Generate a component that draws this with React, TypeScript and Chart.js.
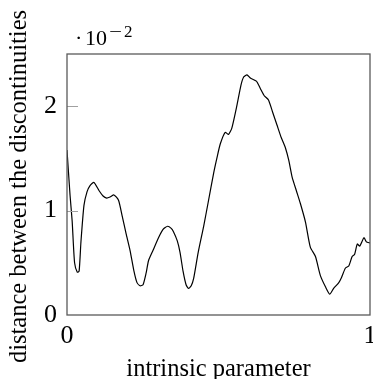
import React, { useEffect, useRef } from "react";
import { Chart, registerables } from "chart.js";

Chart.register(...registerables);

// intrinsic parameter (x) and distance between discontinuities (y, in units of 1e-2)
const params = [
  0.0, 0.01, 0.017, 0.025, 0.034, 0.04, 0.046, 0.056, 0.066, 0.076, 0.089, 0.106, 0.119,
  0.131, 0.142, 0.155, 0.17, 0.182, 0.195, 0.208, 0.221, 0.231, 0.241, 0.251, 0.261,
  0.269, 0.284, 0.302, 0.317, 0.332, 0.344, 0.351, 0.364, 0.373, 0.383, 0.393, 0.401,
  0.41, 0.418, 0.433, 0.451, 0.466, 0.484, 0.496, 0.506, 0.522, 0.533, 0.544, 0.561,
  0.574, 0.583, 0.594, 0.605, 0.625, 0.638, 0.651, 0.665, 0.679, 0.693, 0.707, 0.721,
  0.732, 0.743, 0.757, 0.77, 0.787, 0.803, 0.82, 0.836, 0.853, 0.867, 0.88, 0.897,
  0.906, 0.919, 0.93, 0.941, 0.949, 0.958, 0.966, 0.98, 0.988, 1.0,
];
const distances = [
  1.58, 1.15, 0.9, 0.5, 0.41, 0.42, 0.7, 1.05, 1.18, 1.24, 1.27, 1.19, 1.14,
  1.12, 1.13, 1.15, 1.1, 0.95, 0.78, 0.62, 0.42, 0.31, 0.28, 0.29, 0.4,
  0.52, 0.62, 0.74, 0.82, 0.85, 0.83, 0.8, 0.71, 0.6, 0.42, 0.29, 0.255,
  0.28, 0.35, 0.6, 0.85, 1.08, 1.36, 1.52, 1.64, 1.75, 1.73, 1.79, 2.01,
  2.2, 2.28, 2.3, 2.27, 2.24, 2.17, 2.1, 2.06, 1.94, 1.82, 1.7, 1.6,
  1.48, 1.32, 1.19, 1.07, 0.89, 0.65, 0.56, 0.38, 0.27, 0.2, 0.255, 0.31,
  0.36, 0.45, 0.47, 0.56, 0.58, 0.68, 0.66, 0.74, 0.7, 0.69,
];
const xTicks = [0, 1];
const yTicks = [0, 1, 2];
const xTitle = "intrinsic parameter";
const yTitle = "distance between the discontinuities";
const multiplierBase = "10";
const multiplierExp = "\u22122";

const SERIF = "'Liberation Serif', 'Times New Roman', serif";

const decorPlugin = {
  id: "decor",
  afterDraw(chart: any) {
    const { ctx, chartArea } = chart;
    const { left, right, top, bottom } = chartArea;
    const yScale = chart.scales.y;
    ctx.save();
    // inner tick marks
    ctx.strokeStyle = "#a0a0a0";
    ctx.lineWidth = 1;
    yTicks.forEach((v) => {
      if (v === 0) return;
      const py = Math.round(yScale.getPixelForValue(v)) + 0.5;
      ctx.beginPath();
      ctx.moveTo(left, py);
      ctx.lineTo(left + 11, py);
      ctx.stroke();
    });
    // frame
    ctx.strokeStyle = "#5a5a5a";
    ctx.lineWidth = 1.3;
    ctx.strokeRect(left, top, right - left, bottom - top);
    // titles
    ctx.fillStyle = "#000";
    ctx.font = `24.5px ${SERIF}`;
    ctx.textAlign = "center";
    ctx.textBaseline = "alphabetic";
    ctx.fillText(xTitle, (left + right) / 2, 375.5);
    ctx.save();
    ctx.translate(26, (top + bottom) / 2 + 2);
    ctx.rotate(-Math.PI / 2);
    ctx.fillText(yTitle, 0, 0);
    ctx.restore();
    // multiplier  ·10^-2
    ctx.textAlign = "left";
    ctx.font = `22px ${SERIF}`;
    ctx.fillText("\u00b7", 75, 45);
    ctx.fillText(multiplierBase, 85, 45);
    const w = ctx.measureText(multiplierBase).width;
    ctx.font = `17px ${SERIF}`;
    ctx.save();
    ctx.translate(85 + w + 2, 37);
    ctx.scale(1.35, 1);
    ctx.fillText("\u2212", 0, 0);
    ctx.restore();
    ctx.fillText("2", 85 + w + 17, 37);
    ctx.restore();
  },
};

export default function App() {
  const ref = useRef<HTMLCanvasElement>(null);
  useEffect(() => {
    document.body.style.margin = "0";
    const chart = new Chart(ref.current as HTMLCanvasElement, {
      type: "line",
      data: {
        datasets: [
          {
            data: params.map((x, i) => ({ x, y: distances[i] })),
            borderColor: "#000",
            borderWidth: 1.2,
            pointRadius: 0,
            tension: 0.2,
            fill: false,
          },
        ],
      },
      options: {
        responsive: false,
        animation: false,
        layout: { padding: { top: 54, right: 3, left: 0, bottom: 0 } },
        plugins: { legend: { display: false }, tooltip: { enabled: false } },
        scales: {
          x: {
            type: "linear",
            min: 0,
            max: 1,
            afterBuildTicks: (s: any) => {
              s.ticks = xTicks.map((v) => ({ value: v }));
            },
            afterFit: (s: any) => {
              s.height = 64;
              s.paddingLeft = 0;
              s.paddingRight = 0;
            },
            ticks: {
              autoSkip: false,
              maxRotation: 0,
              padding: 6,
              color: "#000",
              font: { family: SERIF, size: 26 },
              callback: (v: any) => String(v),
            },
            grid: { display: false, drawTicks: false },
            border: { display: false },
          },
          y: {
            type: "linear",
            min: 0,
            max: 2.5,
            afterBuildTicks: (s: any) => {
              s.ticks = yTicks.map((v) => ({ value: v }));
            },
            afterFit: (s: any) => {
              s.width = 67;
              s.paddingTop = 0;
              s.paddingBottom = 0;
            },
            ticks: {
              autoSkip: false,
              padding: 10,
              color: "#000",
              font: { family: SERIF, size: 26 },
              callback: (v: any) => String(v),
            },
            grid: { display: false, drawTicks: false },
            border: { display: false },
          },
        },
      },
      plugins: [decorPlugin],
    } as any);
    return () => chart.destroy();
  }, []);
  return (
    <div style={{ width: 373, height: 379, position: "relative" }}>
      <canvas ref={ref} width={373} height={379} style={{ display: "block" }} />
    </div>
  );
}
